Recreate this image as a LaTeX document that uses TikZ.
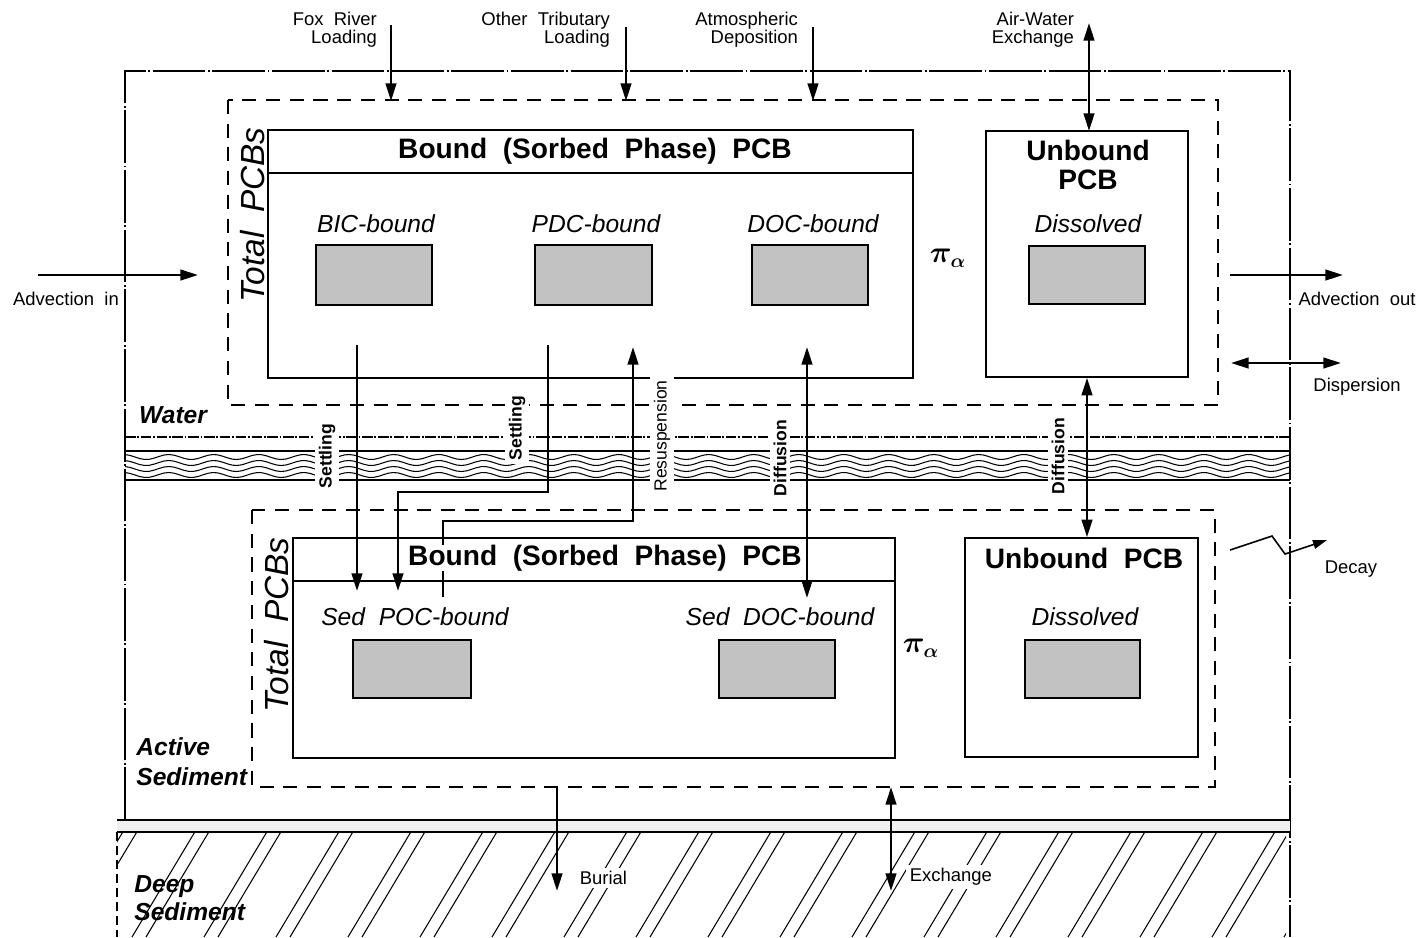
\documentclass[tikz,border=0pt]{standalone}
\usepackage{fontspec}
\setmainfont{Liberation Sans}
\usetikzlibrary{arrows.meta,fit}
\begin{document}
\begin{tikzpicture}[x=0.02cm,y=-0.02cm,
  box/.style={draw,line width=0.9pt,inner sep=0pt},
  grayfill/.style={draw,line width=0.8pt,fill=gray!48,inner sep=0pt},
  dbox/.style={draw,line width=0.8pt,dash pattern=on 8pt off 5.5pt},
  frame/.style={draw,line width=0.6pt,dash pattern=on 30pt off 1.5pt on 1pt off 1.5pt},
  flow/.style={line width=1.4pt,-{Triangle[length=10pt,width=6pt]}},
  flowtwo/.style={line width=1.4pt,{Triangle[length=10pt,width=6pt]}-{Triangle[length=10pt,width=6pt]}},
  small/.style={font=\fontsize{10.5}{10.5}\selectfont,inner sep=1pt},
  title/.style={font=\fontsize{16}{17}\selectfont\bfseries,align=center,inner sep=1pt},
  sub/.style={font=\fontsize{14}{14}\selectfont\itshape,inner sep=1pt},
  total/.style={font=\fontsize{19}{19}\selectfont\itshape,rotate=90,inner sep=1pt},
  zone/.style={font=\fontsize{14}{14}\selectfont\bfseries\itshape,align=left,inner sep=0pt},
  bandlab/.style={font=\fontsize{10}{10}\selectfont\bfseries,rotate=90,fill=white,inner sep=2pt},
  pilab/.style={font=\fontsize{16}{16}\selectfont\boldmath,inner sep=0pt}]
\useasboundingbox (0,0) rectangle (1416,937);

% outer frame
\draw[frame] (125,820) -- (125,71) -- (1290,71) -- (1290,937);

% interface band
\draw[line width=0.7pt,dash pattern=on 6pt off 1pt on 1pt off 1pt] (125,437) -- (1290,437);
\draw[line width=0.8pt] (125,451) -- (1290,451);
\foreach \yy in {457,463,469,475}
  \draw[line width=0.6pt] plot[domain=125:1290,samples=240] (\x,{\yy+2.5*sin(8*\x)});
\draw[line width=0.8pt] (125,480) -- (1290,480);

% deep sediment
\fill[gray!12] (117,820) rectangle (1290,832);
\draw[line width=0.7pt] (117,820) -- (1290,820);
\draw[line width=0.7pt] (117,832) -- (1290,832);
\draw[line width=0.6pt,dash pattern=on 5pt off 3pt] (117,832) -- (117,937);
\begin{scope}
  \clip (117,832) rectangle (1286,937);
  \foreach \i in {0,...,18} {
    \draw[line width=0.6pt] ({\i*72+60},937) -- ++(64,-107);
    \draw[line width=0.6pt] ({\i*72+74},937) -- ++(64,-107);
  }
\end{scope}

% dashed compartments
\draw[dbox] (228,100) rectangle (1218,405);
\draw[dbox] (252,510) rectangle (1215,787);

% upper boxes
\node[box,fit={(268,130) (913,378)}] (ubound) {};
\draw[line width=0.8pt] (268,173) -- (913,173);
\node[title] (ubtitle) at (595,151) {Bound\ \ (Sorbed\ \ Phase)\ \ PCB};
\node[box,fit={(986,131) (1188,377)}] (uunb) {};
\node[title] (uunbt) at (1088,165) {Unbound\\PCB};

\node[sub] (bicl) at (376,224) {BIC-bound};
\node[sub] (pdcl) at (596,224) {PDC-bound};
\node[sub] (docl) at (813,224) {DOC-bound};
\node[sub] (udisl) at (1088,224) {Dissolved};
\node[grayfill,fit={(316,245) (432,305)}] (bic) {};
\node[grayfill,fit={(535,245) (652,305)}] (pdc) {};
\node[grayfill,fit={(752,245) (868,305)}] (doc) {};
\node[grayfill,fit={(1029,246) (1145,304)}] (udis) {};
\node[pilab] (upi) at (948,258) {$\pi_{\alpha}$};
\node[total] (utot) at (253,215) {Total\ \ PCBs};

% lower boxes
\node[box,fit={(293,538) (895,758)}] (lbound) {};
\draw[line width=0.8pt] (293,581) -- (895,581);
\node[box,fit={(965,538) (1198,757)}] (lunb) {};
\node[title] (lunbt) at (1084,558) {Unbound\ \ PCB};
\node[sub] (poclab) at (415,617) {Sed\ \ POC-bound};
\node[sub] (sdoclab) at (780,617) {Sed\ \ DOC-bound};
\node[sub] (ldisl) at (1085,617) {Dissolved};
\node[grayfill,fit={(353,640) (471,698)}] (poc) {};
\node[grayfill,fit={(719,640) (835,698)}] (sdoc) {};
\node[grayfill,fit={(1025,640) (1140,698)}] (ldis) {};
\node[pilab] (lpi) at (921,648) {$\pi_{\alpha}$};
\node[total] (ltot) at (277,625) {Total\ \ PCBs};

% zone labels
\node[zone] (water) at (173,415) {Water};
\node[zone,anchor=west] (active) at (136,762) {Active\\[3pt]Sediment};
\node[zone,anchor=west] (deep) at (134,898) {Deep\\[2pt]Sediment};

% external loads
\node[small,align=right,anchor=east] (fox) at (379,30) {Fox\ \ River\\Loading};
\node[small,align=right,anchor=east] (trib) at (612,30) {Other\ \ Tributary\\Loading};
\node[small,align=right,anchor=east] (atm) at (800,30) {Atmospheric\\Deposition};
\node[small,align=right,anchor=east] (aw) at (1076,30) {Air-Water\\Exchange};
\coordinate (foxs) at (391,25);  \coordinate (foxe) at (391,101);
\coordinate (tribs) at (626,27); \coordinate (tribe) at (626,101);
\coordinate (atms) at (813,27);  \coordinate (atme) at (813,101);
\coordinate (aws) at (1089,23);  \coordinate (awe) at (1089,131);
\draw[flow] (foxs) -- (foxe);
\draw[flow] (tribs) -- (tribe);
\draw[flow] (atms) -- (atme);
\draw[flowtwo] (aws) -- (awe);

% advection / dispersion / decay
\coordinate (ains) at (38,275); \coordinate (aine) at (198,275);
\draw[flow] (ains) -- (aine);
\node[small] (ainl) at (66,299) {Advection\ \ in};
\coordinate (aouts) at (1230,275); \coordinate (aoute) at (1343,275);
\draw[flow] (aouts) -- (aoute);
\node[small] (aoutl) at (1357,299) {Advection\ \ out};
\coordinate (disps) at (1231,363); \coordinate (dispe) at (1341,363);
\draw[flowtwo] (disps) -- (dispe);
\node[small] (displ) at (1357,387) {Dispersion};
\coordinate (decs) at (1230,550); \coordinate (dec1) at (1272,536);
\coordinate (dec2) at (1285,554); \coordinate (dece) at (1327,540);
\draw[line width=0.9pt,-{Triangle[length=8pt,width=5pt]}] (decs) -- (dec1) -- (dec2) -- (dece);
\node[small] (decl) at (1351,569) {Decay};

% settling, resuspension, diffusion
\coordinate (s1a) at (357,345); \coordinate (s1b) at (357,591);
\draw[flow] (s1a) -- (s1b);
\coordinate (s2a) at (548,345); \coordinate (s2b) at (548,492);
\coordinate (s2c) at (398,492); \coordinate (s2d) at (398,591);
\draw[flow] (s2a) -- (s2b) -- (s2c) -- (s2d);
\coordinate (ra) at (443,597); \coordinate (rb) at (443,521);
\coordinate (rc) at (633,521); \coordinate (rd) at (633,347);
\draw[flow] (ra) -- (rb) -- (rc) -- (rd);
\coordinate (d1a) at (807,347); \coordinate (d1b) at (807,598);
\draw[flowtwo] (d1a) -- (d1b);
\draw[flowtwo] (uunb.south -| 1087,0) -- (lunb.north -| 1087,0);

\node[title,fill=white,inner sep=0pt] (lbtitle) at (605,558) {Bound\ \ (Sorbed\ \ Phase)\ \ PCB};

\node[bandlab] (settl1) at (327,456) {Settling};
\node[bandlab] (settl2) at (517,428) {Settling};
\node[bandlab,font=\fontsize{10}{10}\selectfont] (resus) at (662,436) {Resuspension};
\node[bandlab] (diff1) at (780,458) {Diffusion};
\node[bandlab] (diff2) at (1058,456) {Diffusion};

% burial / exchange
\coordinate (bus) at (557,787); \coordinate (bue) at (557,891);
\draw[flow] (bus) -- (bue);
\node[small,anchor=west,fill=white,inner sep=2pt] (burl) at (576,878) {Burial};
\coordinate (exs) at (891,787); \coordinate (exe) at (891,891);
\draw[flowtwo] (exs) -- (exe);
\node[small,anchor=west,fill=white,inner sep=2pt] (exl) at (906,877) {Exchange};
\end{tikzpicture}
\end{document}
